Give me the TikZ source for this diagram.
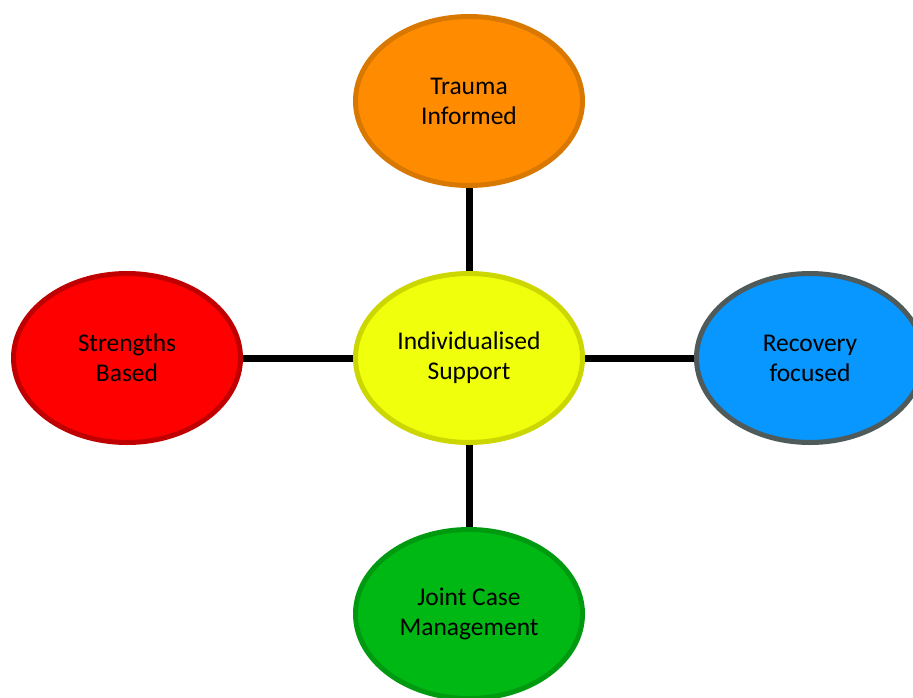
\documentclass[tikz,border=0pt]{standalone}
\usepackage{fontspec}
\setmainfont{Carlito}
\usetikzlibrary{shapes.geometric,backgrounds}

\definecolor{orangefill}{HTML}{FF8C00}
\definecolor{orangeline}{HTML}{D97800}
\definecolor{yellowfill}{HTML}{F0FF0C}
\definecolor{yellowline}{HTML}{CCD600}
\definecolor{redfill}{HTML}{FF0000}
\definecolor{redline}{HTML}{C00000}
\definecolor{bluefill}{HTML}{0896FF}
\definecolor{blueline}{HTML}{4F5A5A}
\definecolor{greenfill}{HTML}{00B814}
\definecolor{greenline}{HTML}{009A10}

\tikzset{
  bubble/.style={ellipse, line width=5pt, minimum width=227pt, minimum height=169pt,
    inner sep=0pt, align=center, font=\fontsize{25.5}{30}\selectfont, text=black},
  link/.style={line width=7pt, black}
}

\begin{document}
\begin{tikzpicture}[x=1pt, y=-1pt]
  \useasboundingbox (0,0) rectangle (913,697);

  \node[bubble, fill=yellowfill, draw=yellowline] (hub) at (469,358) {Individualised\\Support};
  \node[bubble, fill=orangefill, draw=orangeline] (trauma) at (469,101) {Trauma\\Informed};
  \node[bubble, fill=redfill, draw=redline] (strength) at (127,358) {Strengths\\Based};
  \node[bubble, fill=bluefill, draw=blueline] (recovery) at (810,358) {Recovery\\focused};
  \node[bubble, fill=greenfill, draw=greenline] (joint) at (469,614) {Joint Case\\Management};

  \begin{scope}[on background layer]
    \draw[link] (hub) -- (trauma);
    \draw[link] (hub) -- (strength);
    \draw[link] (hub) -- (recovery);
    \draw[link] (hub) -- (joint);
  \end{scope}
\end{tikzpicture}
\end{document}
